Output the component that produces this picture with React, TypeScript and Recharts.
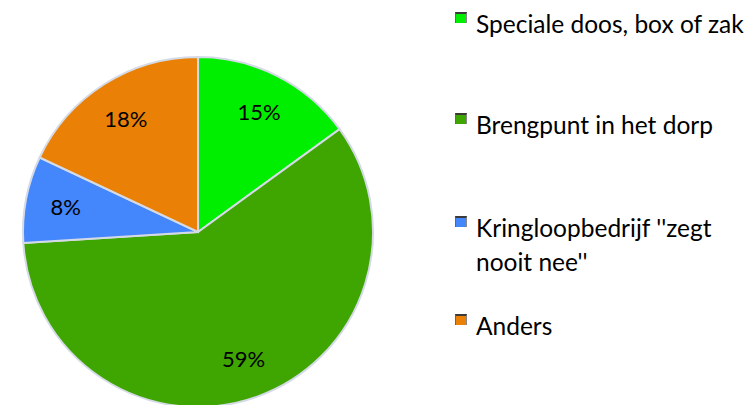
import { Cell, Legend, Pie, PieChart } from 'recharts';

const categories = ['Speciale doos, box of zak', 'Brengpunt in het dorp', "Kringloopbedrijf ''zegt nooit nee''", 'Anders'];
const shares = [15, 59, 8, 18];
const colors = ['#00ef00', '#3fa500', '#4486fb', '#ea8006'];
const legendLines = [['Speciale doos, box of zak'], ['Brengpunt in het dorp'], ["Kringloopbedrijf ''zegt", "nooit nee''"], ['Anders']];
const legendTops = [7, 108, 211, 309];

const data = categories.map((name, i) => ({ name, value: shares[i] }));
const RAD = Math.PI / 180;
const FONT = 'Lato, "Open Sans", sans-serif';

function SliceLabel(props: any) {
  const { cx, cy, midAngle, outerRadius, value } = props;
  const r = outerRadius * 0.77;
  const x = cx + r * Math.cos(-midAngle * RAD);
  const y = cy + r * Math.sin(-midAngle * RAD);
  return (
    <text x={x} y={y} textAnchor="middle" dominantBaseline="central" fill="#000" fontSize={22} fontFamily={FONT}>
      {`${value}%`}
    </text>
  );
}

function LegendBox() {
  return (
    <div style={{ position: 'relative', width: 300, height: 405, fontFamily: FONT }}>
      {legendLines.map((lines, i) => (
        <div key={i} style={{ position: 'absolute', left: 0, top: legendTops[i] }}>
          <div
            style={{
              position: 'absolute',
              left: 0,
              top: 5,
              width: 10,
              height: 9,
              background: colors[i],
              borderTop: '2px solid #3a3a3a',
              borderLeft: '1px solid #666',
              borderRight: '1px solid #888',
            }}
          />
          <div style={{ marginLeft: 21, fontSize: 24.5, lineHeight: '34px', color: '#000', whiteSpace: 'nowrap' }}>
            {lines.map((l, j) => (
              <div key={j} style={{ height: 34 }}>{l}</div>
            ))}
          </div>
        </div>
      ))}
    </div>
  );
}

export default function App() {
  return (
    <div style={{ position: 'absolute', left: 0, top: 0, width: 752, height: 405, background: '#fff', overflow: 'hidden' }}>
      <PieChart width={752} height={405} margin={{ top: 0, right: 0, bottom: 0, left: 0 }}>
        <Pie
          data={data}
          dataKey="value"
          nameKey="name"
          cx={198}
          cy={232}
          outerRadius={175}
          startAngle={90}
          endAngle={-270}
          stroke="#d4dae6"
          strokeWidth={2}
          label={SliceLabel}
          labelLine={false}
          isAnimationActive={false}
        >
          {data.map((d, i) => (
            <Cell key={d.name} fill={colors[i]} />
          ))}
        </Pie>
        <Legend
          layout="vertical"
          verticalAlign="top"
          align="right"
          content={() => <LegendBox />}
          wrapperStyle={{ left: 455, top: 0, width: 297 }}
        />
      </PieChart>
    </div>
  );
}
